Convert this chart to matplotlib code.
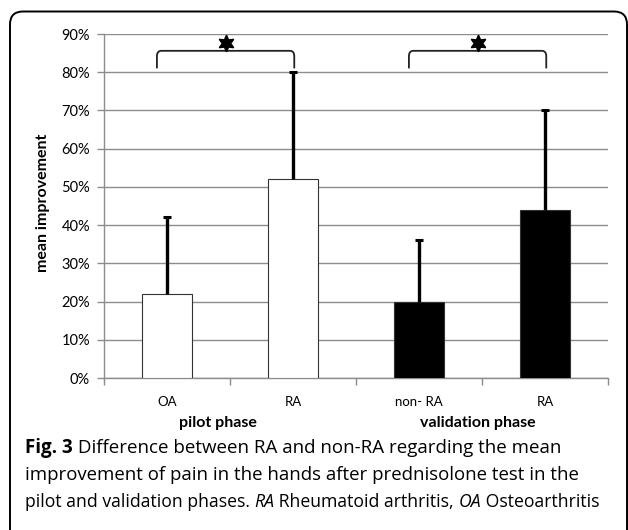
import matplotlib
matplotlib.use("Agg")
import matplotlib.pyplot as plt
import numpy as np
from matplotlib.patches import FancyBboxPatch, PathPatch
from matplotlib.path import Path

# ---- data ----
categories = ["OA", "RA", "non- RA", "RA"]
phases = ["pilot phase", "validation phase"]
means = [22, 52, 20, 44]
upper_err = [20, 28, 16, 26]
bar_colors = ["white", "white", "black", "black"]
yticks = [0, 10, 20, 30, 40, 50, 60, 70, 80, 90]
brackets = [(0, 1), (2, 3)]
caption_lines = [
    [("Fig. 3", "bold", "normal"), (" Difference between RA and non-RA regarding the mean", "normal", "normal")],
    [("improvement of pain in the hands after prednisolone test in the", "normal", "normal")],
    [("pilot and validation phases. ", "normal", "normal"), ("RA", "normal", "italic"),
     (" Rheumatoid arthritis, ", "normal", "normal"), ("OA", "normal", "italic"),
     (" Osteoarthritis", "normal", "normal")],
]

W, H = 628, 530
FONT = "Lato"
CAP_FONT = "Open Sans"
plt.rcParams["font.family"] = [FONT, "DejaVu Sans"]

fig = plt.figure(figsize=(W / 100, H / 100), dpi=100)

# rounded frame
frame = FancyBboxPatch((0.10, -0.4), 6.17, 5.30 - 0.115 + 0.4,
                       boxstyle="round,pad=0,rounding_size=0.13",
                       transform=fig.dpi_scale_trans, facecolor="none",
                       edgecolor="black", linewidth=1.4)
fig.patches.append(frame)

ax = fig.add_axes([104 / W, 1 - 378 / H, 504 / W, 344 / H])
x = np.arange(len(categories))
ax.bar(x, means, width=0.4, color=bar_colors, edgecolor="#333333", linewidth=0.8, zorder=3)
eb = ax.errorbar(x, means, yerr=[np.zeros(len(means)), upper_err], fmt="none",
                 ecolor="black", elinewidth=2.4, capsize=2.6, capthick=2.2, zorder=4)
# only the upper caps are drawn in the original
if len(eb.lines[1]) >= 2:
    eb.lines[1][0].set_visible(False)

ax.set_xlim(-0.5, len(categories) - 0.5)
ax.set_ylim(0, 90)
ax.set_yticks(yticks)
ax.set_yticklabels([f"{v}%" for v in yticks], fontsize=10.5)
ax.yaxis.grid(True, color="#8c8c8c", linewidth=1.0)
ax.set_axisbelow(True)

ax.set_xticks(np.arange(-0.5, len(categories), 1.0))
ax.set_xticklabels([])
ax.set_xticks(x, minor=True)
ax.set_xticklabels(categories, minor=True, fontsize=9.5)
ax.tick_params(axis="x", which="major", length=5, color="#8c8c8c", width=1)
ax.tick_params(axis="x", which="minor", length=0, pad=13)
ax.tick_params(axis="y", length=5, color="#8c8c8c", width=1, pad=5)
for s in ["top", "right"]:
    ax.spines[s].set_visible(False)
for s in ["left", "bottom"]:
    ax.spines[s].set_color("#8c8c8c")
    ax.spines[s].set_linewidth(1.0)

# significance brackets with stars
y0, y1 = 81.0, 85.6
for i, j in brackets:
    xl, xr = i - 0.08, j + 0.01
    rx, ry = 0.035, 1.4
    verts = [(xl, y0), (xl, y1 - ry), (xl, y1), (xl + rx, y1),
             (xr - rx, y1), (xr, y1), (xr, y1 - ry), (xr, y0)]
    codes = [Path.MOVETO, Path.LINETO, Path.CURVE3, Path.CURVE3,
             Path.LINETO, Path.CURVE3, Path.CURVE3, Path.LINETO]
    ax.add_patch(PathPatch(Path(verts, codes), facecolor="none",
                           edgecolor="#222222", linewidth=1.3, clip_on=False, zorder=5))
    ax.plot([(xl + xr) / 2], [87.6], marker=(6, 1, 0), markersize=12,
            color="black", clip_on=False, zorder=6)

fig.text(43 / W, 1 - 203 / H, "mean improvement", rotation=90, ha="center",
         va="center", fontsize=11.5, fontweight="bold")

phase_x = [218, 478]
for px, lab in zip(phase_x, phases):
    fig.text(px / W, 1 - 423 / H, lab, ha="center", va="center",
             fontsize=11.5, fontweight="bold")

# caption: fit font size to the measured widths of the lines
renderer = fig.canvas.get_renderer()

def line_width(segs, size):
    tot = 0
    for txt, wt, st in segs:
        t = fig.text(0, 0, txt, fontsize=size, fontweight=wt, fontstyle=st,
                     family=[CAP_FONT, "DejaVu Sans"])
        tot += t.get_window_extent(renderer).width
        t.remove()
    return tot

left_px = 25
line_ends = [569, 577, 600]
base_size = 10 * ((line_ends[0] - left_px) + (line_ends[1] - left_px)) / (
    line_width(caption_lines[0], 10) + line_width(caption_lines[1], 10))

baselines = [453, 480, 507]
for segs, base, end in zip(caption_lines, baselines, line_ends):
    size = min(base_size, 10 * (end - left_px) / line_width(segs, 10))
    xp = left_px
    for txt, wt, st in segs:
        t = fig.text(xp / W, 1 - base / H, txt, fontsize=size, fontweight=wt,
                     fontstyle=st, va="baseline", family=[CAP_FONT, "DejaVu Sans"])
        xp += t.get_window_extent(renderer).width

fig.savefig("out.png", dpi=100)
